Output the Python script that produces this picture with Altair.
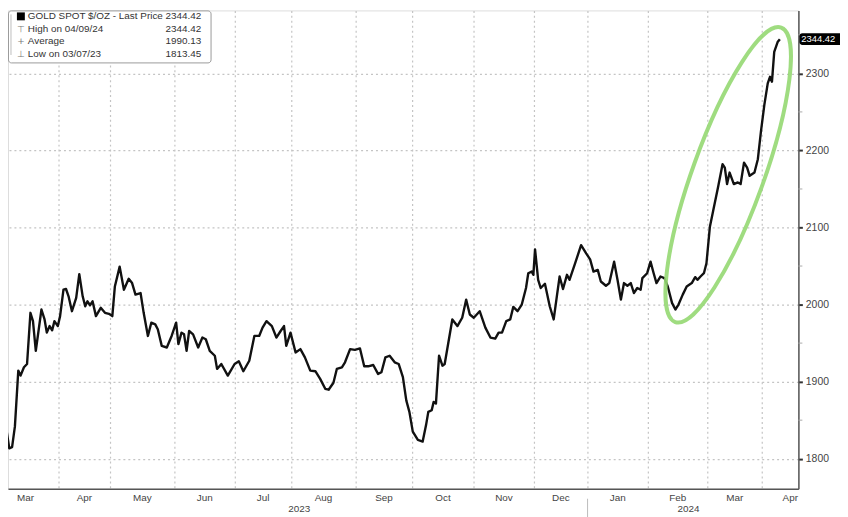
import altair as alt
import pandas as pd

# ---------------- data ----------------
# x = trading-day index counted from Mon 6 Mar 2023 (index 0)
day_index = [
    -0.35, 0.6, 1.4, 2.9, 3.9, 4.9, 6.1, 6.9, 8.1, 9.2,
    10.4, 11.3, 12.3, 14.3, 15.4, 16.2, 17.2, 18.1, 18.9, 20.1,
    20.9, 22.1, 23.0, 23.9, 25.1, 26.6, 27.7, 28.9, 29.8, 30.6,
    31.5, 32.4, 33.6, 35.3, 36.8, 38.2, 39.4, 40.3, 42.0, 43.5,
    45.2, 46.4, 47.6, 49.4, 50.5, 52.0, 53.2, 54.6, 55.5, 56.9,
    58.7, 60.4, 62.0, 62.8, 63.9, 64.8, 65.7, 66.6, 68.0, 69.8,
    71.3, 72.5, 73.9, 75.7, 76.5, 78.0, 80.3, 82.7, 84.2, 85.8,
    87.9, 89.7, 91.4, 92.6, 94.0, 95.9, 97.5, 99.0, 100.2, 101.0,
    102.5, 104.3, 106.0, 107.6, 109.5, 111.3, 113.0, 114.8, 116.0, 117.7,
    118.9, 120.7, 121.8, 123.6, 125.3, 127.1, 128.6, 130.0, 131.8, 133.5,
    134.7, 136.1, 137.6, 139.4, 140.8, 142.3, 143.5, 144.6, 145.8, 147.6,
    149.3, 150.5, 151.3, 152.5, 153.2, 154.0, 155.1, 156.3, 157.1, 158.3,
    159.8, 161.6, 163.3, 164.7, 166.0, 167.4, 169.5, 171.5, 173.3, 175.0,
    176.2, 177.4, 178.9, 180.3, 181.4, 182.9, 184.4, 185.9, 186.7, 187.9,
    188.5, 189.1, 190.2, 191.1, 192.6, 194.3, 195.7, 196.9, 197.8, 199.0,
    200.4, 201.3, 203.1, 205.4, 207.2, 208.6, 209.8, 211.3, 212.4, 214.2,
    215.4, 217.1, 218.3, 219.5, 220.6, 221.8, 223.0, 224.1, 225.3, 226.5,
    227.1, 228.8, 230.0, 231.1, 232.1, 233.5, 234.9, 236.1, 237.6, 238.8,
    239.9, 241.4, 242.8, 244.6, 245.8, 246.6, 247.7, 248.9, 249.8, 251.0,
    252.2, 253.9, 255.5, 256.3, 257.1, 258.0, 259.5, 260.9, 261.9, 263.1,
    264.2, 265.1, 266.8, 268.0, 269.1, 270.3, 271.5, 272.3, 273.0, 273.8, 275.0, 275.8,
]
price = [
    1839.3, 1856.4, 1850.0, 1813.5, 1815.0, 1841.9, 1914.3, 1907.8, 1918.6, 1922.9,
    1989.3, 1978.5, 1940.0, 1993.6, 1980.7, 1963.6, 1972.1, 1966.6, 1978.5, 1972.1,
    1985.0, 2019.3, 2020.2, 2010.7, 1991.4, 2008.6, 2039.5, 2010.7, 1997.8, 2004.2,
    1999.1, 2004.2, 1985.0, 1995.8, 1989.3, 1988.0, 1985.0, 2023.5, 2049.2, 2019.3,
    2033.4, 2027.9, 2012.9, 2015.0, 1989.3, 1959.3, 1976.5, 1974.3, 1967.9, 1946.4,
    1944.3, 1959.3, 1976.5, 1948.6, 1963.6, 1961.4, 1940.0, 1965.7, 1961.4, 1944.3,
    1957.2, 1955.0, 1940.0, 1933.6, 1916.5, 1922.9, 1907.8, 1922.9, 1926.4, 1913.5,
    1927.1, 1959.3, 1959.3, 1970.1, 1978.5, 1972.1, 1957.2, 1965.7, 1972.1, 1946.4,
    1963.6, 1937.9, 1942.2, 1931.5, 1914.3, 1913.5, 1903.6, 1890.7, 1889.5, 1898.5,
    1916.5, 1918.6, 1925.1, 1942.2, 1941.3, 1943.1, 1919.9, 1919.9, 1921.6, 1910.0,
    1912.2, 1931.5, 1933.6, 1925.1, 1922.9, 1905.8, 1875.7, 1860.8, 1835.1, 1824.3,
    1822.2, 1843.6, 1860.8, 1862.9, 1873.7, 1871.5, 1933.6, 1920.7, 1922.9, 1948.6,
    1980.7, 1972.1, 1982.9, 2006.4, 1987.1, 1982.9, 1991.4, 1970.1, 1957.2, 1955.9,
    1963.6, 1963.6, 1978.5, 1980.7, 1997.0, 1991.4, 2000.0, 2021.5, 2040.7, 2042.8,
    2038.6, 2071.6, 2032.1, 2021.5, 2027.0, 1997.8, 1980.7, 2012.9, 2036.4, 2020.2,
    2038.6, 2032.1, 2051.4, 2077.1, 2066.4, 2058.7, 2042.8, 2045.0, 2029.9, 2024.4,
    2027.9, 2055.7, 2032.1, 2006.4, 2027.9, 2024.4, 2027.9, 2015.0, 2021.5, 2019.3,
    2034.3, 2040.7, 2055.7, 2040.7, 2027.9, 2036.4, 2034.3, 2023.5, 2002.2, 1993.6,
    2000.0, 2012.9, 2023.5, 2027.9, 2035.6, 2032.1, 2036.4, 2040.7, 2053.6, 2100.6,
    2122.1, 2152.1, 2182.1, 2177.8, 2156.4, 2171.3, 2156.4, 2158.5, 2156.4, 2184.2,
    2177.8, 2167.1, 2171.3, 2188.6, 2224.9, 2259.2, 2287.0, 2295.6, 2289.2, 2327.8, 2340.6, 2344.42,
]
assert len(day_index) == len(price)

# month starts (trading-day index): Mar-23 ... Apr-24, May-24
month_starts = [-3.0, 20.4, 38.6, 61.4, 82.8, 102.8, 125.6, 145.6, 167.4,
                188.8, 207.7, 229.1, 250.2, 269.5, 289.5]
month_names = ["Mar", "Apr", "May", "Jun", "Jul", "Aug", "Sep", "Oct", "Nov",
               "Dec", "Jan", "Feb", "Mar", "Apr"]
year_labels = ["2023", "2024"]
year_label_day = [105.6, 243.4]
year_break_day = 207.7

y_major = [1800, 1900, 2000, 2100, 2200, 2300]
y_minor = [1850, 1950, 2050, 2150, 2250, 2350]

legend_labels = ["GOLD SPOT $/OZ - Last Price", "High on 04/09/24", "Average", "Low on 03/07/23"]
legend_values = ["2344.42", "2344.42", "1990.13", "1813.45"]
legend_icons = ["", "\u22a4", "+", "\u22a5"]
last_price = 2344.42

highlight_day = [257.5]
highlight_price = [2168.4]

# ---------------- chart ----------------
W, H = 798, 483
FONT = "Liberation Sans"

xscale = alt.Scale(domain=[2.455, 282.36], nice=False, zero=False)
yscale = alt.Scale(domain=[1760.9, 2381.7], nice=False, zero=False)

df = pd.DataFrame({"day": day_index, "price": price})

line = alt.Chart(df).mark_line(color="#111111", strokeWidth=2.4, clip=True,
                               strokeJoin="round").encode(
    x=alt.X("day:Q", scale=xscale,
            axis=alt.Axis(values=month_starts[1:-1], labels=False, ticks=False, title=None,
                          grid=True, gridColor="#c4c4c4", gridDash=[2, 3], gridWidth=1.2,
                          domainColor="#555555", domainWidth=1.5)),
    y=alt.Y("price:Q", scale=yscale,
            axis=alt.Axis(orient="right", values=y_major, title=None, format="d",
                          grid=True, gridColor="#c4c4c4", gridDash=[2, 3], gridWidth=1.2,
                          domainColor="#555555", domainWidth=1.5,
                          tickColor="#333333", tickSize=4, tickWidth=2,
                          labelPadding=3, labelFontSize=10.5, labelColor="#444444",
                          labelFont=FONT)),
)

minor = alt.Chart(pd.DataFrame({"v": y_minor})).mark_rule(color="#aaaaaa", strokeWidth=1).encode(
    y=alt.Y("v:Q", scale=yscale), x=alt.value(W), x2=alt.value(W + 4)
)

A, B = 158, 36
k = 0.5523
r = B / A
kr = k * r
ellipse_path = (f"M0,-1 C{kr:.4f},-1 {r:.4f},-{k} {r:.4f},0 "
                f"C{r:.4f},{k} {kr:.4f},1 0,1 "
                f"C-{kr:.4f},1 -{r:.4f},{k} -{r:.4f},0 "
                f"C-{r:.4f},-{k} -{kr:.4f},-1 0,-1 Z")
ellipse = alt.Chart(pd.DataFrame({"day": highlight_day, "price": highlight_price})).mark_point(
    shape=ellipse_path, size=(2 * A) ** 2, angle=19.8, filled=False,
    stroke="#95d872", strokeWidth=4, opacity=1, strokeOpacity=0.9
).encode(x=alt.X("day:Q", scale=xscale), y=alt.Y("price:Q", scale=yscale))

lp = pd.DataFrame({"price": [last_price], "label": [f"{last_price:.2f}"]})
price_box = alt.Chart(lp).mark_tick(orient="horizontal", color="black", thickness=12, size=48,
                                    opacity=1, cornerRadius=3).encode(
    y=alt.Y("price:Q", scale=yscale), x=alt.value(W + 25)
)
price_txt = alt.Chart(lp).mark_text(align="left", baseline="middle", color="white",
                                    fontSize=9.5, font=FONT).encode(
    y=alt.Y("price:Q", scale=yscale), x=alt.value(W + 3), text="label:N"
)

mids = [(month_starts[i] + month_starts[i + 1]) / 2 for i in range(len(month_names))]
months = alt.Chart(pd.DataFrame({"mid": mids, "name": month_names})).mark_text(
    baseline="middle", fontSize=10, color="#444444", font=FONT
).encode(x=alt.X("mid:Q", scale=xscale), y=alt.value(H + 9), text="name:N")

years = alt.Chart(pd.DataFrame({"d": year_label_day, "t": year_labels})).mark_text(
    baseline="middle", fontSize=10, color="#444444", font=FONT
).encode(x=alt.X("d:Q", scale=xscale), y=alt.value(H + 20), text="t:N")

ybreak = alt.Chart(pd.DataFrame({"d": [year_break_day]})).mark_rule(color="#bbbbbb").encode(
    x=alt.X("d:Q", scale=xscale), y=alt.value(H + 10), y2=alt.value(H + 30)
)

one = pd.DataFrame({"a": [0]})
legend_layers = [
    alt.Chart(one).mark_rect(fill="white", stroke="#9a9a9a", strokeWidth=1, cornerRadius=3).encode(
        x=alt.value(0.5), x2=alt.value(205), y=alt.value(0.5), y2=alt.value(53)),
    alt.Chart(one).mark_rule(color="#bdbdbd").encode(
        x=alt.value(3), y=alt.value(4), y2=alt.value(45)),
    alt.Chart(one).mark_rect(fill="black").encode(
        x=alt.value(9), x2=alt.value(17), y=alt.value(2), y2=alt.value(10)),
]
for i, (lab, val, ico) in enumerate(zip(legend_labels, legend_values, legend_icons)):
    yy = 6 + i * 12.7
    row = pd.DataFrame({"lab": [lab], "val": [val], "ico": [ico]})
    legend_layers.append(alt.Chart(row).mark_text(align="left", baseline="middle", fontSize=10,
                                                  color="#333333", font=FONT).encode(
        x=alt.value(20), y=alt.value(yy), text="lab:N"))
    legend_layers.append(alt.Chart(row).mark_text(align="right", baseline="middle", fontSize=10,
                                                  color="#333333", font=FONT).encode(
        x=alt.value(195), y=alt.value(yy), text="val:N"))
    if ico:
        legend_layers.append(alt.Chart(row).mark_text(align="center", baseline="middle", fontSize=9,
                                                      color="#777777", font="DejaVu Sans").encode(
            x=alt.value(13), y=alt.value(yy), text="ico:N"))

chart = alt.layer(
    line, minor, ellipse, price_box, price_txt, months, years, ybreak, *legend_layers
).properties(
    width=W, height=H,
    padding={"left": 0, "top": 0, "right": 42, "bottom": 26},
    autosize=alt.AutoSizeParams(type="none"),
).configure_view(stroke=None).configure(background="white")

chart.save("out.html", embed_options={"renderer": "svg", "actions": False})
